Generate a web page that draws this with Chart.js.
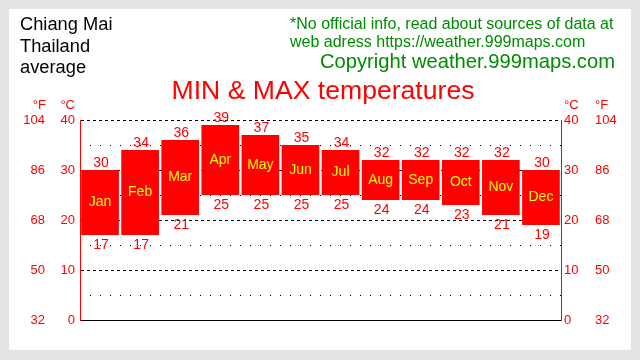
<!DOCTYPE html>
<html>
<head>
<meta charset="utf-8">
<script src="https://cdn.jsdelivr.net/npm/chart.js@4/dist/chart.umd.min.js"></script>
<style>
  body { margin: 0; background: #e4e4e4; font-family: 'Liberation Sans', Arial, sans-serif; }
  #wrap { position: relative; width: 640px; height: 360px; overflow: hidden; }
  #panel { position: absolute; left: 9px; top: 9px; width: 622px; height: 341px; background: #fff; }
  #chart { position: absolute; left: 0; top: 0; }
  .txt { position: absolute; white-space: nowrap; }
  #place { left: 20px; top: 13px; font-size: 18.3px; line-height: 21.5px; color: #000; }
  #note { left: 290px; top: 15px; font-size: 16px; line-height: 18px; color: #008c00; }
  #copy { right: 25px; top: 51px; font-size: 20.2px; line-height: 20px; color: #008c00; }
  #title { left: 0; width: 646px; text-align: center; top: 75px; font-size: 26.6px; line-height: 30px; color: #ff0000; }
  .unit { top: 97px; font-size: 13px; line-height: 15px; color: #ff0000; }
</style>
</head>
<body>
<div id="wrap">
  <div id="panel"></div>
  <canvas id="chart" width="640" height="360"></canvas>
  <div class="txt" id="place">Chiang Mai<br>Thailand<br>average</div>
  <div class="txt" id="note">*No official info, read about sources of data at<br>web adress https://weather.999maps.com</div>
  <div class="txt" id="copy">Copyright weather.999maps.com</div>
  <div class="txt" id="title">MIN &amp; MAX temperatures</div>
  <div class="txt unit" style="right:594px">°F</div>
  <div class="txt unit" style="right:565px">°C</div>
  <div class="txt unit" style="left:564px">°C</div>
  <div class="txt unit" style="left:595px">°F</div>
</div>
<script>
const meses = ['Jan', 'Feb', 'Mar', 'Apr', 'May', 'Jun', 'Jul', 'Aug', 'Sep', 'Oct', 'Nov', 'Dec'];
const tempMax = [30, 34, 36, 39, 37, 35, 34, 32, 32, 32, 32, 30];
const tempMin = [17, 17, 21, 25, 25, 25, 25, 24, 24, 23, 21, 19];
const ticksC = { min: 0, max: 40, step: 10 };
const ticksF = { min: 32, max: 104, step: 18 };

const rojo = '#ff0000';
const fuenteTicks = { family: "'Liberation Sans', Arial, sans-serif", size: 13 };
const transparente = 'rgba(0,0,0,0)';

// etiquetas de max, min y mes sobre cada barra
const etiquetasBarras = {
    id: 'etiquetasBarras',
    afterDatasetsDraw(chart) {
        const ctx = chart.ctx;
        const meta = chart.getDatasetMeta(0);
        ctx.save();
        ctx.textAlign = 'center';
        meta.data.forEach((barra, i) => {
            const { x, y, base } = barra.getProps(['x', 'y', 'base'], true);
            ctx.font = "14px 'Liberation Sans', Arial, sans-serif";
            ctx.fillStyle = rojo;
            ctx.textBaseline = 'alphabetic';
            ctx.fillText(String(tempMax[i]), x + 1, y - 3);
            ctx.textBaseline = 'top';
            ctx.fillText(String(tempMin[i]), x + 1, base + 3);
            ctx.font = "14px 'Liberation Sans', Arial, sans-serif";
            ctx.fillStyle = '#ffff00';
            ctx.textBaseline = 'middle';
            ctx.fillText(meses[i], x, (y + base) / 2);
        });
        ctx.restore();
    }
};

const ejeTemp = (pos, peso, t, ancho, pad) => ({
    position: pos,
    weight: peso,
    min: t.min,
    max: t.max,
    ticks: { stepSize: t.step, color: rojo, font: fuenteTicks, padding: pad },
    grid: { drawOnChartArea: false, drawTicks: false },
    border: { display: false },
    afterFit: s => { s.width = ancho; }
});

const escalas = {
    x: {
        grid: { display: false },
        ticks: { display: false },
        border: { color: '#000', width: 1 },
        afterFit: s => { s.height = 0; }
    },
    yC: {
        position: 'left',
        weight: 0,
        min: ticksC.min,
        max: ticksC.max,
        ticks: { stepSize: ticksC.step, color: rojo, font: fuenteTicks, padding: 5 },
        grid: {
            drawTicks: false,
            color: c => (c.tick && c.tick.value > 0 ? '#000' : transparente)
        },
        border: { color: rojo, width: 1, dash: [3, 3] },
        afterFit: s => { s.width = 30; }
    },
    yPuntos: {
        position: 'left',
        weight: -1,
        min: ticksC.min,
        max: ticksC.max,
        ticks: { display: false, stepSize: 5 },
        grid: {
            drawTicks: false,
            color: c => (c.tick && c.tick.value % 10 !== 0 ? '#000' : transparente)
        },
        border: { display: false, dash: [1, 9] },
        afterFit: s => { s.width = 0; }
    },
    yF: ejeTemp('left', 1, ticksF, 50, 5),
    yC2: Object.assign(ejeTemp('right', 0, ticksC, 30, 3), { border: { display: true, color: rojo, width: 1 } }),
    yF2: ejeTemp('right', 1, ticksF, 49, 4)
};

new Chart(document.getElementById('chart'), {
    type: 'bar',
    data: {
        labels: meses,
        datasets: [{
            data: meses.map((m, i) => [tempMin[i], tempMax[i]]),
            backgroundColor: rojo,
            borderWidth: 0,
            barPercentage: 0.94,
            categoryPercentage: 1,
            xAxisID: 'x',
            yAxisID: 'yC'
        }]
    },
    options: {
        responsive: false,
        animation: false,
        devicePixelRatio: 1,
        layout: { padding: { top: 120, bottom: 40, left: 0, right: 0 } },
        plugins: { legend: { display: false }, tooltip: { enabled: false } },
        scales: escalas
    },
    plugins: [etiquetasBarras]
});
</script>
</body>
</html>
